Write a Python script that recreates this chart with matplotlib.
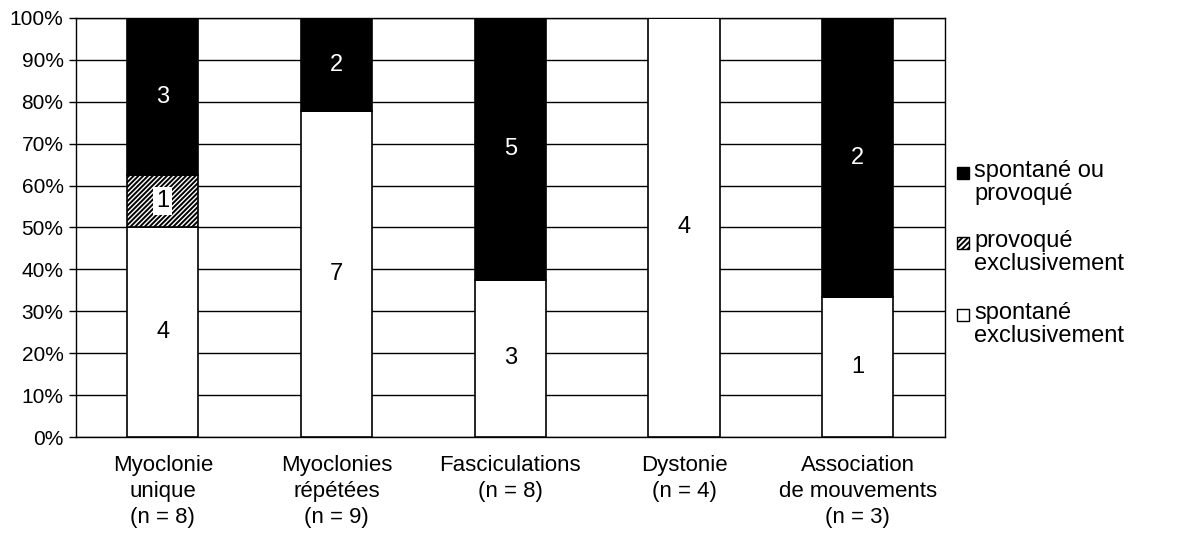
import numpy as np
import matplotlib.pyplot as plt
from matplotlib.patches import Rectangle
from matplotlib.ticker import PercentFormatter

plt.rcParams['font.family'] = ['Liberation Sans', 'DejaVu Sans']
plt.rcParams['hatch.linewidth'] = 1.4

# ----------------------------------------------------------------------
# data (counts per movement type)
# ----------------------------------------------------------------------
categories = ["Myoclonie\nunique\n(n = 8)", "Myoclonies\nrépétées\n(n = 9)",
              "Fasciculations\n(n = 8)", "Dystonie\n(n = 4)",
              "Association\nde mouvements\n(n = 3)"]
spontane_excl = [4, 7, 3, 4, 1]
provoque_excl = [1, 0, 0, 0, 0]
spontane_ou_provoque = [3, 2, 5, 0, 2]

series_names = ["spontané\nexclusivement", "provoqué\nexclusivement",
                "spontané ou\nprovoqué"]

fig = plt.figure(figsize=(11.99, 5.43), dpi=100)
ax = fig.add_axes([0.0634, 0.1952, 0.7245, 0.7717])

counts = np.array([spontane_excl, provoque_excl, spontane_ou_provoque], float)
totals = counts.sum(axis=0)
pct = counts / totals * 100

x = np.arange(len(categories))
styles = [dict(facecolor="white", hatch=None, text="black", box=False),
          dict(facecolor="white", hatch="///////", text="black", box=True),
          dict(facecolor="black", hatch=None, text="white", box=False)]

bottom = np.zeros(len(categories))
for k in range(3):
    st = styles[k]
    ax.bar(x, pct[k], bottom=bottom, width=0.41, color=st["facecolor"],
           edgecolor="black", linewidth=1.2, hatch=st["hatch"], zorder=3)
    for i in range(len(categories)):
        if counts[k, i] > 0:
            bb = dict(facecolor="white", edgecolor="none", pad=2) if st["box"] else None
            ax.text(x[i], bottom[i] + pct[k, i] / 2, f"{int(counts[k, i])}",
                    ha="center", va="center", fontsize=17, color=st["text"],
                    bbox=bb, zorder=4)
    bottom += pct[k]

ax.set_xlim(-0.5, len(categories) - 0.5)
ax.set_ylim(0, 100)
ax.set_yticks(np.arange(0, 101, 10))
ax.yaxis.set_major_formatter(PercentFormatter(decimals=0))
ax.set_xticks(x)
ax.set_xticklabels(categories, fontsize=16, linespacing=1.3)
ax.tick_params(axis="x", length=0, pad=13)
ax.tick_params(axis="y", length=5, width=1, labelsize=15, pad=4)
ax.grid(axis="y", color="black", linewidth=1, zorder=0)
for s in ax.spines.values():
    s.set_color("black")
    s.set_linewidth(1)

# legend drawn by hand: handle aligned with first text line
leg_y = [0.681, 0.552, 0.420]
for name, st, y in zip(series_names[::-1], styles[::-1], leg_y):
    fig.patches.append(Rectangle((0.7985, y - 0.011), 0.0095, 0.022,
                                 transform=fig.transFigure,
                                 facecolor=st["facecolor"], edgecolor="black",
                                 linewidth=1, hatch=st["hatch"] and "//////"))
    fig.text(0.8125, y + 0.024, name, fontsize=17, va="top", ha="left",
             linespacing=1.05)

fig.savefig("out.png", dpi=100)
